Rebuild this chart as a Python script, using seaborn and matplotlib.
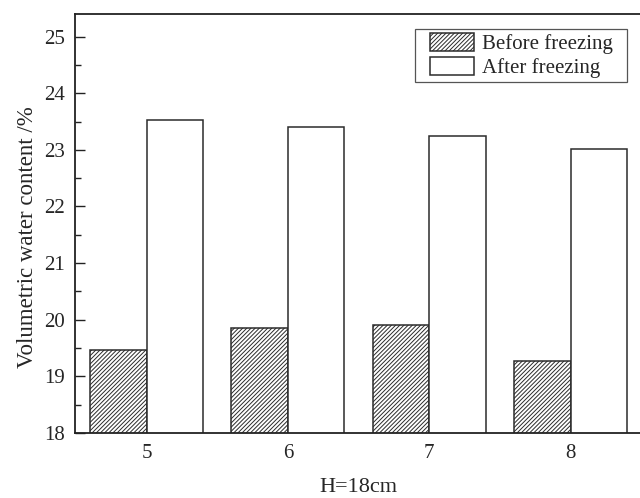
import matplotlib
matplotlib.use("Agg")
import matplotlib.pyplot as plt
import seaborn as sns
import pandas as pd
from matplotlib.path import Path
from matplotlib.ticker import MultipleLocator

sns.set_theme(style="white")
plt.rcParams["font.family"] = ["Liberation Serif", "DejaVu Serif"]
plt.rcParams["hatch.color"] = "#3a3a3a"
plt.rcParams["hatch.linewidth"] = 0.7

positions = ["5", "6", "7", "8"]
before_freezing = [19.47, 19.86, 19.90, 19.27]
after_freezing = [23.52, 23.41, 23.25, 23.02]
series_names = ["Before freezing", "After freezing"]

df = pd.DataFrame({
    "pos": positions * 2,
    "value": before_freezing + after_freezing,
    "series": [series_names[0]] * len(positions) + [series_names[1]] * len(positions),
})

fig = plt.figure(figsize=(6.4, 4.98), dpi=100)
ax = fig.add_axes([0.117, 0.1305, 0.885, 0.8415])

sns.barplot(data=df, x="pos", y="value", hue="series", hue_order=series_names,
            order=positions, palette=["white", "white"], edgecolor="#2b2b2b",
            linewidth=1.1, width=0.8, gap=0, ax=ax, legend=True)

HATCH = "////////"
for bar in ax.containers[0]:
    bar.set_hatch(HATCH)

ax.set_ylim(18, 25.4)
ax.set_xlim(-0.507, 3.5)
ax.yaxis.set_major_locator(MultipleLocator(1))
ax.yaxis.set_minor_locator(MultipleLocator(0.5))
ax.tick_params(axis="y", which="major", direction="in", length=7, width=1,
               labelsize=15, color="#222222", left=True, pad=7)
ax.tick_params(axis="y", which="minor", direction="in", length=4, width=1,
               color="#222222", left=True)
ax.tick_params(axis="x", which="both", length=0, labelsize=15, pad=8)

for spine in ax.spines.values():
    spine.set_color("#222222")
    spine.set_linewidth(1.3)

ax.set_xlabel("H=18cm", fontsize=16, labelpad=11)
ax.set_ylabel("Volumetric water content /%", fontsize=16.5)
ax.yaxis.set_label_coords(-0.065, 0.468)


def legend_box(x0, y0, width, height, mutation_size):
    # wide side margins, tight top/bottom margins
    inset = 0.53 * mutation_size
    y0, y1 = y0 + inset, y0 + height - inset
    x1 = x0 + width
    return Path([(x0, y0), (x1, y0), (x1, y1), (x0, y1), (x0, y0)],
                [Path.MOVETO, Path.LINETO, Path.LINETO, Path.LINETO, Path.CLOSEPOLY])


leg = ax.legend(loc="upper right", bbox_to_anchor=(0.975, 0.99), fontsize=15,
                frameon=True, fancybox=False, edgecolor="#555555",
                handlelength=2.15, handleheight=1.0, handletextpad=0.35,
                labelspacing=0.12, borderpad=0.7, borderaxespad=0)
leg.get_frame().set_boxstyle(legend_box)
leg.get_frame().set_linewidth(0.9)
leg.get_frame().set_alpha(1)
for h in leg.get_patches():
    h.set_edgecolor("#2b2b2b")
    h.set_linewidth(1.1)
leg.get_patches()[0].set_hatch(HATCH)

fig.savefig("out.png", dpi=100)
